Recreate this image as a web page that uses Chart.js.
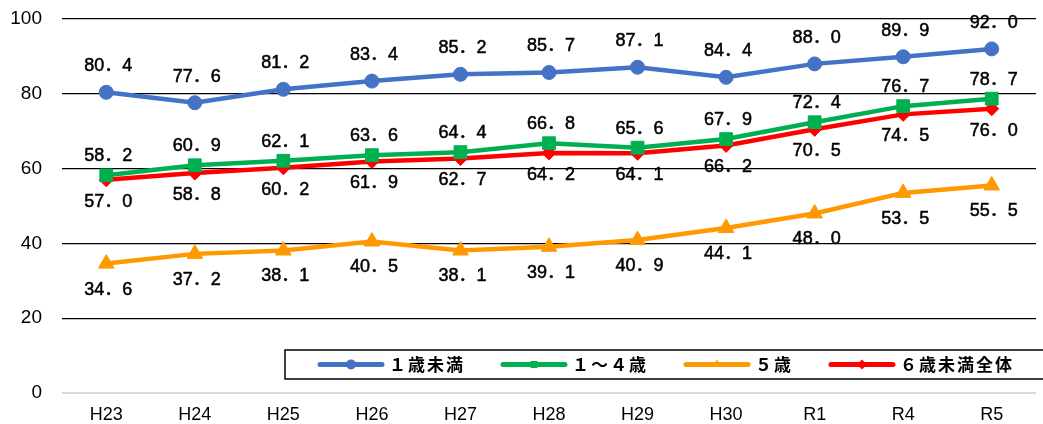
<!DOCTYPE html>
<html lang="ja">
<head>
<meta charset="utf-8">
<script src="https://cdn.jsdelivr.net/npm/chart.js@4.4.1/dist/chart.umd.min.js"></script>
<style>
  html, body { margin: 0; padding: 0; background: #fff; overflow: hidden; }
</style>
</head>
<body>
<canvas id="chart" width="1046" height="424"></canvas>
<script>
// Data
const years = ["H23", "H24", "H25", "H26", "H27", "H28", "H29", "H30", "R1", "R4", "R5"];
const under1 = [80.4, 77.6, 81.2, 83.4, 85.2, 85.7, 87.1, 84.4, 88.0, 89.9, 92.0];
const age1to4 = [58.2, 60.9, 62.1, 63.6, 64.4, 66.8, 65.6, 67.9, 72.4, 76.7, 78.7];
const age5 = [34.6, 37.2, 38.1, 40.5, 38.1, 39.1, 40.9, 44.1, 48.0, 53.5, 55.5];
const under6 = [57.0, 58.8, 60.2, 61.9, 62.7, 64.2, 64.1, 66.2, 70.5, 74.5, 76.0];
const seriesNames = ["１歳未満", "１～４歳", "５歳", "６歳未満全体"];

const CJK = '"Noto Sans CJK JP", "Noto Sans", sans-serif';
const LATIN = '"Liberation Sans", "Noto Sans CJK JP", Arial, sans-serif';

function fmt(v) {
  // full-width period like the original labels
  return v.toFixed(1).replace(".", "．");
}

function makeSet(label, data, color, style, radius, labelOffset) {
  return {
    label,
    data,
    borderColor: color,
    backgroundColor: color,
    borderWidth: 4.5,
    pointStyle: style,
    pointRadius: radius,
    pointHoverRadius: radius,
    pointBorderWidth: 1,
    pointBorderColor: color,
    pointBackgroundColor: color,
    tension: 0,
    labelOffset,
  };
}

// value labels above / below the points
const valueLabels = {
  id: "valueLabels",
  afterDatasetsDraw(chart) {
    const ctx = chart.ctx;
    ctx.save();
    ctx.font = "18px " + LATIN;
    ctx.fillStyle = "#000";
    ctx.strokeStyle = "#000";
    ctx.lineWidth = 0.5;
    ctx.textAlign = "center";
    ctx.textBaseline = "middle";
    chart.data.datasets.forEach((ds, i) => {
      const meta = chart.getDatasetMeta(i);
      meta.data.forEach((pt, j) => {
        const txt = fmt(ds.data[j]);
        ctx.fillText(txt, pt.x + 2, pt.y + ds.labelOffset);
        ctx.strokeText(txt, pt.x + 2, pt.y + ds.labelOffset);
      });
    });
    ctx.restore();
  },
};

// boxed legend inside the plot, bottom right
const boxLegend = {
  id: "boxLegend",
  afterDraw(chart) {
    const ctx = chart.ctx;
    const area = chart.chartArea;
    const top = area.bottom - 43;
    const h = 29;
    const cy = top + h / 2;
    ctx.save();
    ctx.fillStyle = "#fff";
    ctx.fillRect(area.left + 223, top, chart.width, h);
    ctx.strokeStyle = "#000";
    ctx.lineWidth = 1.5;
    ctx.strokeRect(area.left + 223, top, chart.width, h);

    ctx.font = "bold 17px " + CJK;
    ctx.letterSpacing = "2px";
    ctx.textBaseline = "middle";
    let x = area.left + 258;
    chart.data.datasets.forEach((ds) => {
      ctx.strokeStyle = ds.borderColor;
      ctx.lineWidth = 5;
      ctx.lineCap = "round";
      ctx.beginPath();
      ctx.moveTo(x, cy);
      ctx.lineTo(x + 62, cy);
      ctx.stroke();
      ctx.fillStyle = ds.borderColor;
      Chart.helpers.drawPoint(ctx, { pointStyle: ds.pointStyle, radius: 5, borderWidth: 0 }, x + 31, cy);
      ctx.fillStyle = "#000";
      ctx.fillText(ds.label, x + 69, cy);
      x += 69 + ctx.measureText(ds.label).width + 38;
    });
    ctx.restore();
  },
};

new Chart(document.getElementById("chart"), {
  type: "line",
  data: {
    labels: years,
    datasets: [
      makeSet(seriesNames[0], under1, "#4472c4", "circle", 7, -26),
      makeSet(seriesNames[1], age1to4, "#00b050", "rect", 9, -19),
      makeSet(seriesNames[2], age5, "#ff9900", "triangle", 9, 26),
      makeSet(seriesNames[3], under6, "#ff0000", "rectRot", 7, 22),
    ],
  },
  options: {
    responsive: false,
    animation: false,
    layout: { padding: { top: 19, left: 0, right: 0, bottom: 0 } },
    plugins: {
      legend: { display: false },
      tooltip: { enabled: false },
    },
    scales: {
      x: {
        offset: true,
        grid: { display: false },
        border: { display: false },
        ticks: {
          color: "#000",
          padding: 3,
          font: { family: '"Liberation Sans", Arial, sans-serif', size: 18 },
        },
        afterFit(s) { s.height = 31; },
      },
      y: {
        min: 0,
        max: 100,
        border: { display: false },
        grid: {
          drawTicks: false,
          color: (c) => (c.tick && c.tick.value === 0 ? "#d9d9d9" : "#000"),
          lineWidth: (c) => (c.tick && c.tick.value === 0 ? 2 : 1.2),
        },
        ticks: {
          stepSize: 20,
          color: "#000",
          padding: 20,
          font: { family: '"Liberation Sans", Arial, sans-serif', size: 19 },
        },
        afterFit(s) {
          s.width = 62;
          s.paddingTop = 0;
          s.paddingBottom = 0;
        },
      },
    },
  },
  plugins: [valueLabels, boxLegend],
});
</script>
</body>
</html>
